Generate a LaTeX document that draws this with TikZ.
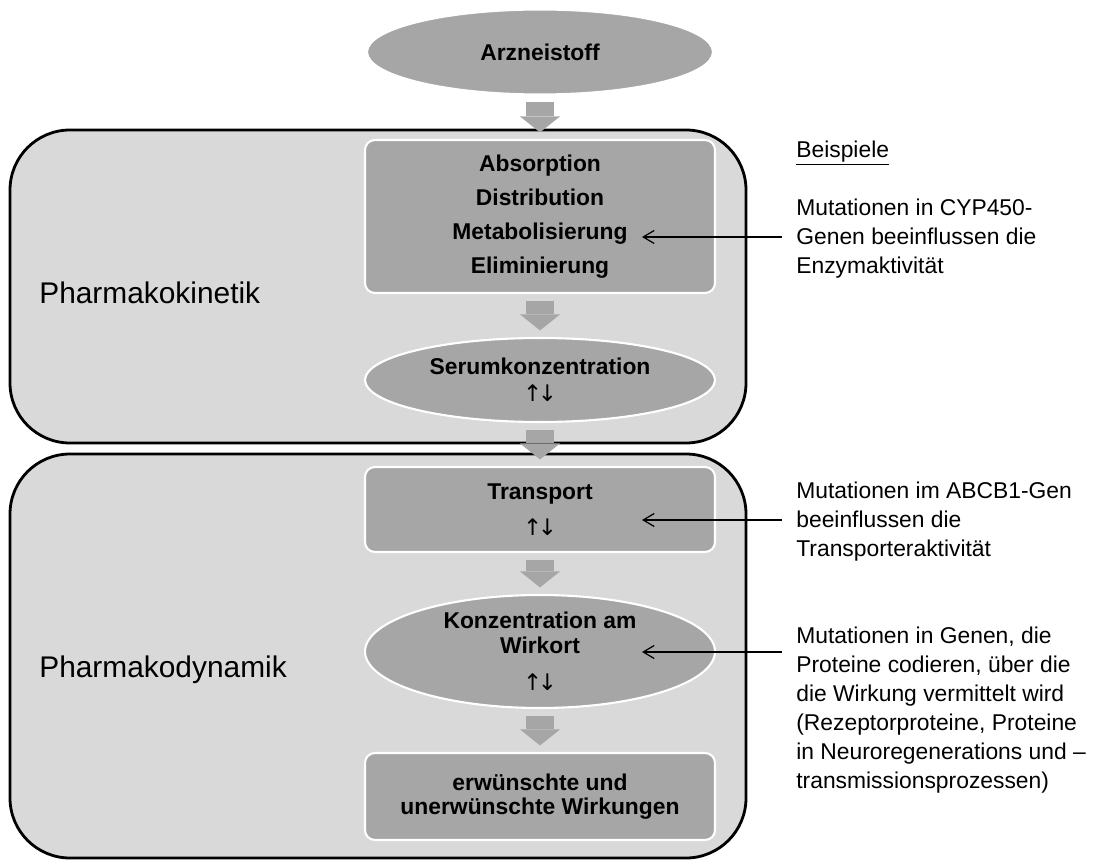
\documentclass[tikz,border=0pt]{standalone}
\usepackage{fontspec}
\setmainfont{Liberation Sans}
\newfontfamily\arrowfont{DejaVu Sans}
\usetikzlibrary{shapes.geometric, positioning, arrows.meta, calc}
\definecolor{phasegray}{HTML}{D9D9D9}
\definecolor{stepgray}{HTML}{A6A6A6}
\newcommand{\updown}{{\arrowfont\mdseries\fontsize{13}{13}\selectfont ↑\kern-2.5pt↓}}
\tikzset{
  phase/.style={draw=black, line width=1.6pt, fill=phasegray, rounded corners=1.2cm},
  stepbox/.style={rectangle, rounded corners=0.2cm, draw=white, line width=1.2pt, fill=stepgray, minimum width=7cm, text centered, align=center, font=\bfseries\fontsize{13}{16}\selectfont},
  stepoval/.style={ellipse, draw=white, line width=1.2pt, fill=stepgray, minimum width=7cm, inner sep=0pt, align=center, font=\bfseries\fontsize{13}{16}\selectfont},
  flow/.style={line width=0.56cm, draw=stepgray, -{Triangle[length=0.32cm, width=0.8cm, line width=0pt]}, shorten <=0.13cm, shorten >=0.13cm},
  hint/.style={line width=0.7pt, -{Straight Barb[length=0.22cm, width=0.26cm]}},
  note/.style={anchor=west, inner xsep=0.28cm, inner ysep=0pt, align=left, font=\fontsize{13}{16.5}\selectfont},
  phaselabel/.style={anchor=west, inner sep=0pt, font=\fontsize{17}{20}\selectfont}
}

\begin{document}
\begin{tikzpicture}
    \useasboundingbox (0,0) rectangle (21.94,-17.24);

    % 1. Phasen (Hintergrundkaesten)
    \draw[phase] (0.2,-2.6) rectangle (14.92,-8.86);
    \draw[phase] (0.2,-9.08) rectangle (14.92,-17.16);
    \node[phaselabel] (pk) at (0.78,-5.86) {Pharmakokinetik};
    \node[phaselabel] (pd) at (0.78,-13.4) {Pharmakodynamik};

    % 2. Schritte in der Mitte
    \node[stepoval, minimum width=6.92cm, minimum height=1.7cm] (arz) at (10.8,-1.04) {Arzneistoff};
    \node[stepbox, minimum height=3.06cm, font=\bfseries\fontsize{13}{19.4}\selectfont] (adme) at (10.8,-4.33)
        {Absorption\\Distribution\\Metabolisierung\\Eliminierung};
    \node[stepoval, minimum height=1.68cm, font=\bfseries\fontsize{13}{15.4}\selectfont] (serum) at (10.8,-7.6)
        {Serumkonzentration\\\updown};
    \node[stepbox, minimum height=1.7cm, font=\bfseries\fontsize{13}{20.5}\selectfont] (trans) at (10.8,-10.19)
        {Transport\\\updown};
    \node[stepoval, minimum height=2.26cm, font=\bfseries\fontsize{13}{14.2}\selectfont] (konz) at (10.8,-13.03)
        {Konzentration am\\Wirkort\\[6.8pt]\updown};
    \node[stepbox, minimum height=1.74cm, font=\bfseries\fontsize{13}{13.7}\selectfont] (wirk) at (10.8,-15.93)
        {erwünschte und\\unerwünschte Wirkungen};

    % Blockpfeile zwischen den Schritten
    \foreach \a/\b in {arz/adme, adme/serum, serum/trans, trans/konz, konz/wirk}
        \draw[flow] (\a) -- (\b);

    % 3. Beispiele rechts
    \node[note, inner xsep=0pt] (bsp) at (15.92,-3.06) {\underline{Beispiele}};
    \node[note] (ex1) at (15.64,-4.77) {Mutationen in CYP450-\\Genen beeinflussen die\\Enzymaktivität};
    \node[note] (ex2) at (15.64,-10.44) {Mutationen im ABCB1-Gen\\beeinflussen die\\Transporteraktivität};
    \node[note] (ex3) at (15.64,-14.21) {Mutationen in Genen, die\\Proteine codieren, über die\\die Wirkung vermittelt wird\\(Rezeptorproteine, Proteine\\in Neuroregenerations und –\\transmissionsprozessen)};

    % Hinweispfeile
    \coordinate (t1) at (12.84,-4.74);
    \coordinate (t2) at (12.84,-10.40);
    \coordinate (t3) at (12.84,-13.04);
    \draw[hint] (ex1.west |- t1) -- (t1);
    \draw[hint] (ex2.west |- t2) -- (t2);
    \draw[hint] (ex3.west |- t3) -- (t3);

\end{tikzpicture}
\end{document}
